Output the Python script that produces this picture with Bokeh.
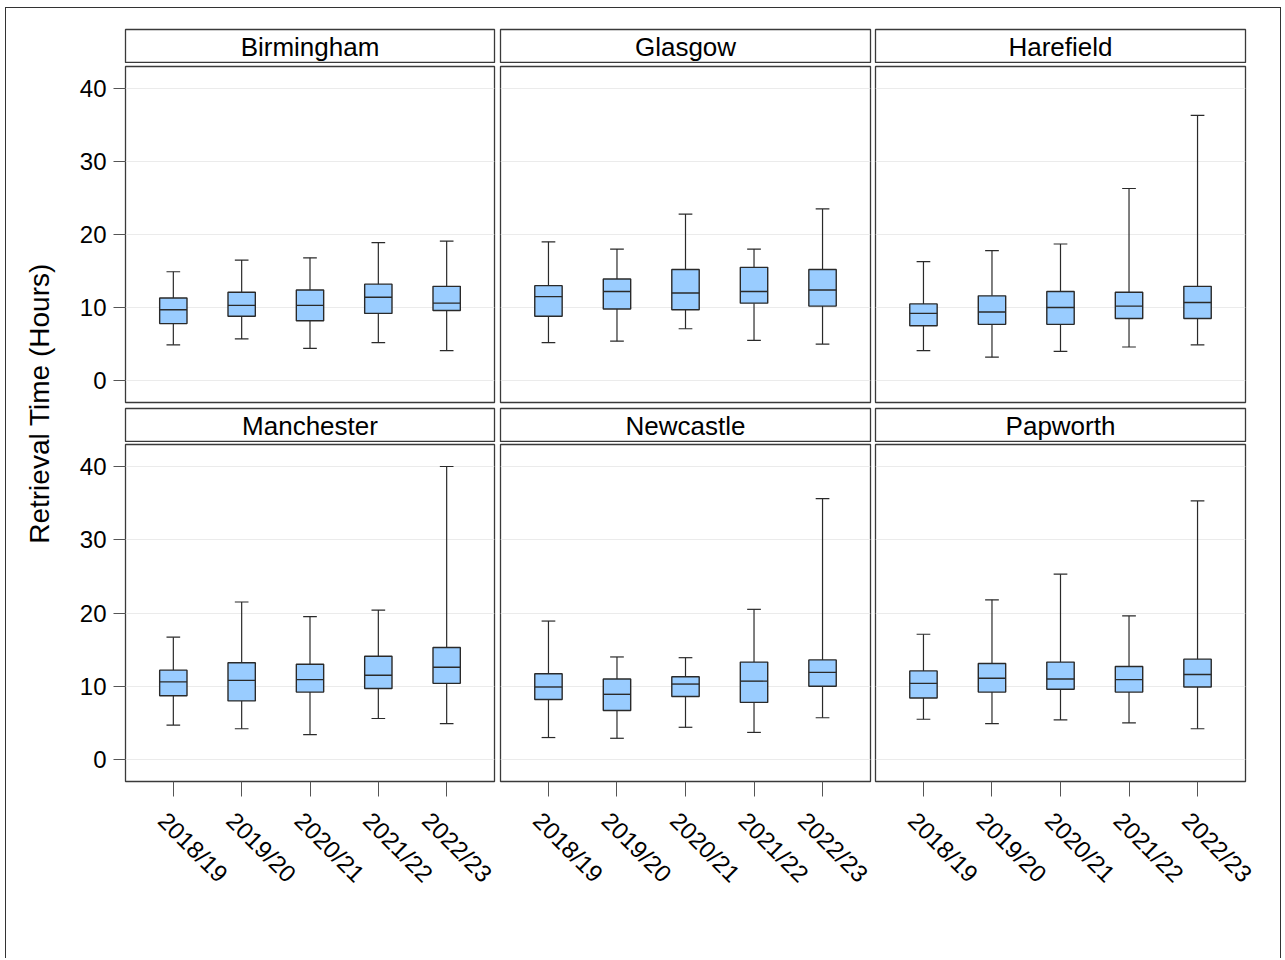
from math import pi
from bokeh.plotting import figure
from bokeh.models import Range1d, LinearAxis, FixedTicker, Grid, Label, ColumnDataSource
from bokeh.layouts import row, column
from bokeh.transform import dodge
from bokeh.embed import file_html
from bokeh.resources import INLINE

hospitals = ["Birmingham", "Glasgow", "Harefield", "Manchester", "Newcastle", "Papworth"]
years = ["2018/19", "2019/20", "2020/21", "2021/22", "2022/23"]
y_ticks = [0, 10, 20, 30, 40]

upper_whisker = [
    [14.9, 16.5, 16.8, 18.9, 19.1],
    [19.0, 18.0, 22.8, 18.0, 23.5],
    [16.3, 17.8, 18.7, 26.3, 36.3],
    [16.7, 21.5, 19.5, 20.4, 40.0],
    [18.9, 14.0, 13.9, 20.5, 35.6],
    [17.1, 21.8, 25.3, 19.6, 35.3],
]
q3 = [
    [11.3, 12.1, 12.4, 13.2, 12.9],
    [13.0, 13.9, 15.2, 15.5, 15.2],
    [10.5, 11.6, 12.2, 12.1, 12.9],
    [12.2, 13.2, 13.0, 14.1, 15.3],
    [11.7, 11.0, 11.3, 13.3, 13.6],
    [12.1, 13.1, 13.3, 12.7, 13.7],
]
median = [
    [9.7, 10.3, 10.3, 11.4, 10.6],
    [11.5, 12.2, 12.0, 12.2, 12.4],
    [9.2, 9.4, 10.0, 10.2, 10.7],
    [10.6, 10.8, 10.9, 11.5, 12.6],
    [9.9, 8.9, 10.3, 10.7, 11.9],
    [10.4, 11.1, 11.0, 10.9, 11.6],
]
q1 = [
    [7.8, 8.8, 8.2, 9.2, 9.6],
    [8.8, 9.8, 9.7, 10.6, 10.2],
    [7.5, 7.7, 7.7, 8.5, 8.5],
    [8.7, 8.0, 9.2, 9.7, 10.4],
    [8.2, 6.7, 8.6, 7.8, 10.0],
    [8.4, 9.2, 9.6, 9.2, 9.9],
]
lower_whisker = [
    [4.9, 5.7, 4.4, 5.2, 4.1],
    [5.2, 5.4, 7.1, 5.5, 5.0],
    [4.1, 3.2, 4.0, 4.6, 4.9],
    [4.7, 4.2, 3.4, 5.6, 4.9],
    [3.0, 2.9, 4.4, 3.7, 5.7],
    [5.5, 4.9, 5.4, 5.0, 4.2],
]

FONT = "Liberation Sans"
BOX_FILL = "#99ccff"
EDGE = "#2a2a2a"
FRAME = "#3a3a3a"
LABEL_SHIFT = 0.16

col_left = [59, 3, 2]
col_right = [3, 3, 35]
frame_w = [369, 370, 370]


def base_fig(width, height, left, right, top, bottom, xr, yr):
    p = figure(width=width, height=height, x_range=xr, y_range=yr,
               x_axis_location=None, y_axis_location=None,
               toolbar_location=None, output_backend="svg",
               min_border_left=left, min_border_right=right,
               min_border_top=top, min_border_bottom=bottom,
               outline_line_color=FRAME, outline_line_width=1.3,
               background_fill_color="white", border_fill_color="white")
    p.grid.visible = False
    return p


def strip(i, col, top):
    w = col_left[col] + frame_w[col] + col_right[col]
    p = base_fig(w, top + 34, col_left[col], col_right[col], top, 0,
                 Range1d(0, 1), Range1d(0, 1))
    p.add_layout(Label(x=0.5, y=0.5, text=hospitals[i], text_align="center",
                       text_baseline="middle", text_font=FONT,
                       text_font_size="26px", text_color="black"))
    return p


def panel(i, col, top_row):
    top = 3 if top_row else 2
    fh = 336 if top_row else 337
    bottom = 3 if top_row else 516 - 2 - 337
    w = col_left[col] + frame_w[col] + col_right[col]
    p = base_fig(w, top + fh + bottom, col_left[col], col_right[col], top, bottom,
                 Range1d(0.3, 5.7), Range1d(-3, 43))
    p.add_layout(Grid(dimension=1, ticker=FixedTicker(ticks=y_ticks),
                      grid_line_color="#ebebeb", grid_line_width=1))
    xs = list(range(1, len(years) + 1))
    src = ColumnDataSource(dict(x=xs, lo=lower_whisker[i], q1=q1[i], med=median[i],
                                q3=q3[i], hi=upper_whisker[i]))
    p.segment(x0="x", y0="q3", x1="x", y1="hi", source=src, line_color=EDGE, line_width=1.2)
    p.segment(x0="x", y0="lo", x1="x", y1="q1", source=src, line_color=EDGE, line_width=1.2)
    p.segment(x0=dodge("x", -0.1), y0="hi", x1=dodge("x", 0.1), y1="hi", source=src,
              line_color=EDGE, line_width=1.2)
    p.segment(x0=dodge("x", -0.1), y0="lo", x1=dodge("x", 0.1), y1="lo", source=src,
              line_color=EDGE, line_width=1.2)
    p.vbar(x="x", width=0.4, bottom="q1", top="q3", source=src,
           fill_color=BOX_FILL, line_color=EDGE, line_width=1.4)
    p.segment(x0=dodge("x", -0.2), y0="med", x1=dodge("x", 0.2), y1="med", source=src,
              line_color=EDGE, line_width=1.4)

    if col == 0:
        yax = LinearAxis(ticker=FixedTicker(ticks=y_ticks),
                         major_label_text_font=FONT, major_label_text_font_size="24px",
                         major_label_text_color="black", major_tick_out=12, major_tick_in=0,
                         minor_tick_line_color=None, axis_line_color=None,
                         major_tick_line_color="#555555", major_label_standoff=7)
        p.add_layout(yax, "left")
    if not top_row:
        p.extra_x_ranges = {"lab": Range1d(0.3 + LABEL_SHIFT, 5.7 + LABEL_SHIFT)}
        tick_ax = LinearAxis(ticker=FixedTicker(ticks=xs), major_tick_out=15, major_tick_in=0,
                             major_label_text_font_size="1px", major_label_text_color=None,
                             major_label_standoff=0,
                             axis_line_color=None, minor_tick_line_color=None,
                             major_tick_line_color="#555555")
        p.add_layout(tick_ax, "below")
        lab_ax = LinearAxis(x_range_name="lab", ticker=FixedTicker(ticks=xs),
                            major_label_overrides={x: y for x, y in zip(xs, years)},
                            major_label_orientation=-pi / 4,
                            major_tick_out=0, major_tick_in=0, axis_line_color=None,
                            minor_tick_line_color=None,
                            major_label_text_font=FONT, major_label_text_font_size="24px",
                            major_label_text_color="black", major_label_standoff=20)
        p.add_layout(lab_ax, "below")
    return p


strips_top = [strip(c, c, 21) for c in range(3)]
panels_top = [panel(c, c, True) for c in range(3)]
strips_bot = [strip(3 + c, c, 3) for c in range(3)]
panels_bot = [panel(3 + c, c, False) for c in range(3)]

ylab = figure(width=60, height=950, x_range=Range1d(6, 66), y_range=Range1d(958, 8),
              x_axis_location=None, y_axis_location=None, toolbar_location=None,
              output_backend="svg", min_border=0, outline_line_color=None)
ylab.grid.visible = False
ylab.add_layout(Label(x=39, y=403, text="Retrieval Time (Hours)", angle=pi / 2,
                      text_align="center", text_baseline="alphabetic",
                      text_font=FONT, text_font_size="28px", text_color="black"))

grid = column(row(*strips_top), row(*panels_top), row(*strips_bot), row(*panels_bot))
page = column(row(ylab, grid), margin=(7, 0, 0, 5),
              styles={"border-top": "1px solid #333", "border-left": "1px solid #333",
                      "border-right": "1px solid #333"})

open("out.html", "w").write(file_html(page, INLINE))
